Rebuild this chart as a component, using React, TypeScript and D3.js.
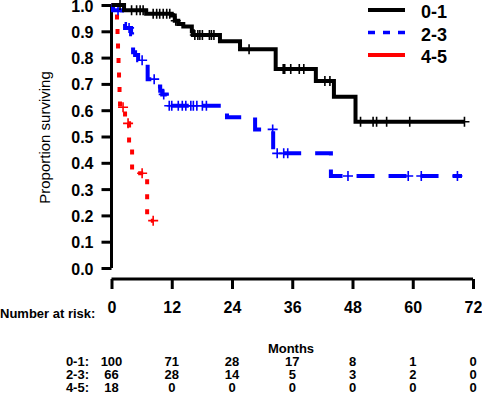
import React, { useRef, useEffect } from 'react';
import * as d3 from 'd3';

// Kaplan-Meier curves by group (months, survival after the drop)
const groups = ['0-1', '2-3', '4-5'];
const groupColors = ['#000000', '#0000ff', '#ff0000'];
const groupDash = ['none', '18,14', '5,10'];
const legendDash = ['none', '7,8', 'none'];

const steps01: [number, number][] = [
  [2.5, 0.98], [6.9, 0.967], [12.0, 0.96], [12.6, 0.94], [13.3, 0.928], [14.3, 0.918],
  [16.0, 0.9], [16.2, 0.886], [21.6, 0.862], [25.6, 0.832], [32.7, 0.757],
  [40.7, 0.711], [44.3, 0.651], [48.6, 0.556],
];
const censor01 = [
  1.7, 4.0, 5.0, 5.7, 6.3, 8.3, 9.0, 9.6, 10.3, 11.0, 11.6, 12.8, 16.6, 17.2, 17.6, 18.1,
  19.5, 19.9, 20.4, 27.4, 34.2, 34.5, 35.7, 37.4, 38.3, 42.5, 43.5, 49.6, 52.1, 52.8,
  54.8, 59.4, 70.3,
];
const end01 = 70.3;

const steps23: [number, number][] = [
  [0.3, 0.98], [2.1, 0.928], [2.7, 0.913], [3.9, 0.889], [4.1, 0.844], [4.3, 0.82],
  [4.7, 0.81], [5.3, 0.79], [7.2, 0.718], [9.0, 0.69], [9.7, 0.674], [10.1, 0.66],
  [11.0, 0.617], [23.0, 0.573], [28.6, 0.527], [32.2, 0.436], [43.7, 0.35],
];
const censor23 = [
  1.3, 3.5, 6.1, 8.5, 10.4, 11.5, 12.0, 13.3, 14.1, 14.8, 15.8, 16.3, 17.0, 18.1, 18.9,
  32.1, 33.0, 34.3, 35.1, 47.1, 59.1, 61.7, 68.9,
];
const end23 = 69.8;

const steps45: [number, number][] = [
  [1.1, 0.944], [1.2, 0.889], [1.3, 0.833], [1.4, 0.778], [1.5, 0.722], [1.6, 0.667],
  [1.7, 0.611], [2.7, 0.55], [3.5, 0.46], [4.1, 0.36], [7.1, 0.18],
];
const censor45 = [2.3, 3.3, 6.1, 8.3];
const end45 = 8.3;

const allSteps = [steps01, steps23, steps45];
const allCensor = [censor01, censor23, censor45];
const allEnds = [end01, end23, end45];

// number at risk table
const riskTimes = [0, 12, 24, 36, 48, 60, 72];
const risk01 = [100, 71, 28, 17, 8, 1, 0];
const risk23 = [66, 28, 14, 5, 3, 2, 0];
const risk45 = [18, 0, 0, 0, 0, 0, 0];
const riskRows = [risk01, risk23, risk45];

const xTicks = [0, 12, 24, 36, 48, 60, 72];
const yTicks = d3.range(0, 11).map(d => d / 10);

const FONT = '"Liberation Sans", Arial, Helvetica, sans-serif';
const W = 482;
const H = 393;

function survivalAt(steps: [number, number][], t: number) {
  let s = 1;
  steps.forEach(([time, v]) => {
    if (time <= t) s = v;
  });
  return s;
}

export default function App() {
  const svgRef = useRef<SVGSVGElement>(null);

  useEffect(() => {
    if (!svgRef.current) return;
    const svg = d3.select(svgRef.current);
    svg.selectAll('*').remove();

    const x = d3.scaleLinear().domain([0, 72]).range([111.5, 473]);
    const y = d3.scaleLinear().domain([0, 1]).range([268, 5]);
    const xAxisY = 279;

    // Y axis
    const yAxis = svg.append('g')
      .attr('transform', `translate(${x(0)},0)`)
      .call(d3.axisLeft(y).tickValues(yTicks).tickSize(10).tickSizeOuter(0).tickPadding(8)
        .tickFormat(d3.format('.1f')));
    yAxis.select('.domain').attr('stroke-width', 3).attr('d', `M0,${y(1)}V${y(0)}`);
    yAxis.selectAll('.tick line').attr('stroke-width', 3);
    yAxis.selectAll('.tick text')
      .attr('font-family', FONT)
      .attr('font-size', 16)
      .attr('font-weight', 'bold')
      .attr('fill', '#000')
      .attr('dy', '0.38em');

    // X axis
    const xAxis = svg.append('g')
      .attr('transform', `translate(0,${xAxisY})`)
      .call(d3.axisBottom(x).tickValues(xTicks).tickSize(10).tickSizeOuter(0).tickPadding(13));
    xAxis.select('.domain').attr('stroke-width', 3).attr('d', `M${x(0)},0H${x(72)}`);
    xAxis.selectAll('.tick line').attr('stroke-width', 3);
    xAxis.selectAll('.tick text')
      .attr('font-family', FONT)
      .attr('font-size', 16)
      .attr('font-weight', 'bold')
      .attr('fill', '#000');

    // Y label
    svg.append('text')
      .attr('transform', `translate(50,${(y(0) + y(1)) / 2 + 1}) rotate(-90)`)
      .attr('text-anchor', 'middle')
      .attr('font-family', FONT)
      .attr('font-size', 15)
      .attr('fill', '#000')
      .text('Proportion surviving');

    // Curves
    const line = d3.line<[number, number]>()
      .x(d => x(d[0]))
      .y(d => y(d[1]))
      .curve(d3.curveStepAfter);

    [2, 1, 0].forEach(i => {
      const steps = allSteps[i];
      const pts: [number, number][] = [[0, 1], ...steps, [allEnds[i], steps[steps.length - 1][1]]];
      svg.append('path')
        .datum(pts)
        .attr('fill', 'none')
        .attr('stroke', groupColors[i])
        .attr('stroke-width', 4)
        .attr('stroke-dasharray', groupDash[i])
        .attr('d', line);

      const marks = svg.append('g');
      allCensor[i].forEach(t => {
        const cx = x(t);
        const cy = y(survivalAt(steps, t));
        marks.append('path')
          .attr('d', `M${cx - 5},${cy}H${cx + 5}M${cx},${cy - 5}V${cy + 5}`)
          .attr('stroke', groupColors[i])
          .attr('stroke-width', 1.6)
          .attr('fill', 'none');
      });
    });

    // Legend
    const legend = svg.append('g');
    groups.forEach((g, i) => {
      const ly = 10 + i * 22.5;
      legend.append('line')
        .attr('x1', 368).attr('x2', 405)
        .attr('y1', ly).attr('y2', ly)
        .attr('stroke', groupColors[i])
        .attr('stroke-width', i === 1 ? 3.5 : 4)
        .attr('stroke-dasharray', legendDash[i]);
      legend.append('text')
        .attr('x', 421)
        .attr('y', ly + 8)
        .attr('font-family', FONT)
        .attr('font-size', 18)
        .attr('font-weight', 'bold')
        .attr('fill', '#000')
        .text(g);
    });

    // Number at risk table
    const table = svg.append('g')
      .attr('font-family', FONT)
      .attr('font-size', 13)
      .attr('font-weight', 'bold')
      .attr('fill', '#000');

    table.append('text').attr('x', 0).attr('y', 318).text('Number at risk:');
    table.append('text').attr('x', 291).attr('y', 353).attr('text-anchor', 'middle').text('Months');

    riskRows.forEach((row, r) => {
      const ry = 366 + r * 13;
      table.append('text')
        .attr('x', 89)
        .attr('y', ry)
        .attr('text-anchor', 'end')
        .text(`${groups[r]}:`);
      row.forEach((n, c) => {
        table.append('text')
          .attr('x', x(riskTimes[c]))
          .attr('y', ry)
          .attr('text-anchor', 'middle')
          .text(n);
      });
    });
  }, []);

  return (
    <svg
      ref={svgRef}
      width={W}
      height={H}
      style={{ position: 'absolute', left: 0, top: 0, background: '#fff' }}
    />
  );
}
